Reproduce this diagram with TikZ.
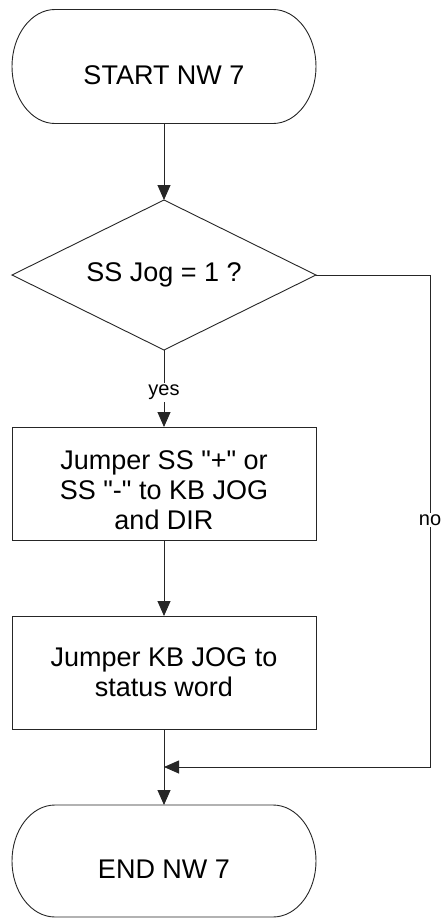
\documentclass[tikz,border=0pt]{standalone}
\usepackage{fontspec}
\setmainfont{Liberation Sans}[Ligatures=TeXOff]
\usetikzlibrary{arrows.meta,shapes.geometric}
\tikzset{
  line/.style={draw=black!85, line width=0.9pt},
  arr/.style={line, -{Triangle[length=15pt,width=13pt]}},
  term/.style={minimum width=304pt, inner sep=0pt, outer sep=0pt},
  txt/.style={inner sep=0pt, align=center, font=\fontsize{27}{30}\selectfont},
  box/.style={line, rectangle, minimum width=304pt, inner sep=0pt, outer sep=0pt, align=center, font=\fontsize{27}{30}\selectfont},
  dec/.style={line, diamond, aspect=2, minimum width=304pt, minimum height=150pt, inner sep=0pt, outer sep=0pt, font=\fontsize{27}{30}\selectfont},
  lbl/.style={fill=white, inner sep=2pt, font=\fontsize{20}{22}\selectfont}
}
\newcommand{\termoutline}[2]{%
  \draw[line] ([xshift=43pt]#1.north west) -- ([xshift=-43pt]#1.north east)
    arc[start angle=90, end angle=-90, x radius=43pt, y radius=#2]
    -- ([xshift=43pt]#1.south west)
    arc[start angle=270, end angle=90, x radius=43pt, y radius=#2] -- cycle;}
\begin{document}
\begin{tikzpicture}[x=1pt,y=1pt]
\useasboundingbox[fill=white] (0,0) rectangle (443,-918);
% start terminal
\node[term, minimum height=114pt] (start) at (164,-66.5) {};
\termoutline{start}{57pt}
\node[txt] (starttxt) at ([yshift=-8.5pt]start.center) {START NW 7};
% decision
\node[dec] (dec) at (164,-275) {SS Jog = 1 ?};
% box 1
\node[box, minimum height=113pt] (box1) at (164,-483.5) {};
\node[txt] (box1txt) at ([yshift=-7pt]box1.center) {Jumper SS "+" or\\SS "-" to KB JOG\\and DIR};
% box 2
\node[box, minimum height=113pt] (box2) at (164,-672.5) {Jumper KB JOG to\\status word};
% end terminal
\node[term, minimum height=112pt] (stop) at (164,-861) {};
\termoutline{stop}{56pt}
\node[txt] (stoptxt) at ([yshift=-8pt]stop.center) {END NW 7};
% connectors
\draw[arr] (start.south) -- (dec.north);
\draw[arr] (dec.south) -- (box1.north) node[lbl, pos=0.55] (yes) {yes};
\draw[arr] (box1.south) -- (box2.north);
\coordinate (join) at (164,-767);
\coordinate (corner) at (430,-275);
\draw[line] (box2.south) -- (join);
\draw[arr] (join) -- (stop.north);
\draw[arr] (dec.east) -- (corner) |- (join);
\node[lbl] (no) at (430,-520) {no};
\end{tikzpicture}
\end{document}
